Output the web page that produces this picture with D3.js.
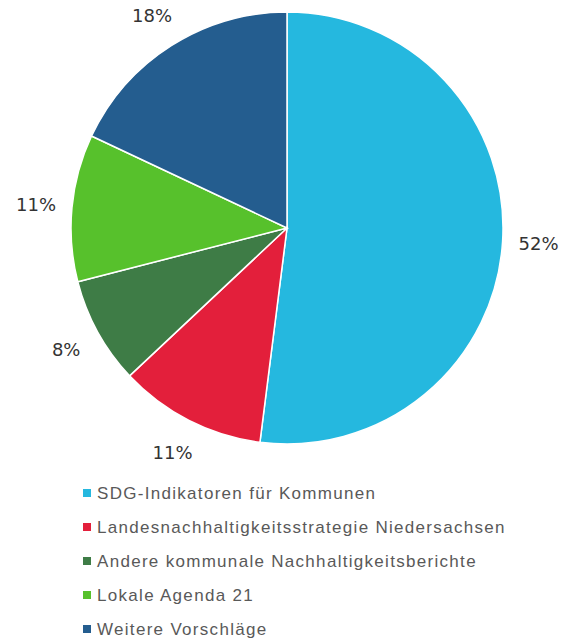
<!DOCTYPE html>
<html>
<head>
<meta charset="utf-8">
<script src="https://cdn.jsdelivr.net/npm/d3@7"></script>
<style>
  body { margin: 0; background: #fff; }
</style>
</head>
<body>
<div id="chart"></div>
<script>
// data
var categories = ["SDG-Indikatoren für Kommunen",
                  "Landesnachhaltigkeitsstrategie Niedersachsen",
                  "Andere kommunale Nachhaltigkeitsberichte",
                  "Lokale Agenda 21",
                  "Weitere Vorschläge"];
var values = [52, 11, 8, 11, 18];
var colors = ["#25B8DF", "#E31F3B", "#3E7C46", "#57C12C", "#245D8F"];

var width = 562, height = 639;
var cx = 287, cy = 228, radius = 216;

var svg = d3.select("#chart")
  .append("svg")
    .attr("width", width)
    .attr("height", height);

var data = categories.map(function(c, i) {
  return {name: c, value: values[i], color: colors[i]};
});

var pie = d3.pie()
  .sort(null)
  .value(function(d) { return d.value; });

var arc = d3.arc()
  .innerRadius(0)
  .outerRadius(radius);

var labelArc = d3.arc()
  .innerRadius(252)
  .outerRadius(252);

var g = svg.append("g")
  .attr("transform", "translate(" + cx + "," + cy + ")");

g.selectAll("path")
  .data(pie(data))
  .enter()
  .append("path")
    .attr("d", arc)
    .attr("fill", function(d) { return d.data.color; })
    .attr("stroke", "white")
    .attr("stroke-width", 1.5);

// percentage labels
g.selectAll("text.pct")
  .data(pie(data))
  .enter()
  .append("text")
    .attr("class", "pct")
    .attr("transform", function(d) { return "translate(" + labelArc.centroid(d) + ")"; })
    .attr("text-anchor", "middle")
    .attr("dy", "0.35em")
    .text(function(d) { return d.data.value + "%"; })
    .style("fill", "#333")
    .style("font-family", "DejaVu Sans")
    .style("font-size", "18px");

// legend
var legend = svg.append("g")
  .attr("transform", "translate(83,493)");

var rows = legend.selectAll("g.row")
  .data(data)
  .enter()
  .append("g")
    .attr("class", "row")
    .attr("transform", function(d, i) { return "translate(0," + (i * 34) + ")"; });

rows.append("rect")
  .attr("x", 0)
  .attr("y", -4)
  .attr("width", 8)
  .attr("height", 8)
  .attr("fill", function(d) { return d.color; });

rows.append("text")
  .attr("x", 14)
  .attr("dy", "0.35em")
  .text(function(d) { return d.name; })
  .style("fill", "#595959")
  .style("font-family", "Liberation Sans")
  .style("font-size", "17px")
  .style("letter-spacing", "1.3px");
</script>
</body>
</html>
